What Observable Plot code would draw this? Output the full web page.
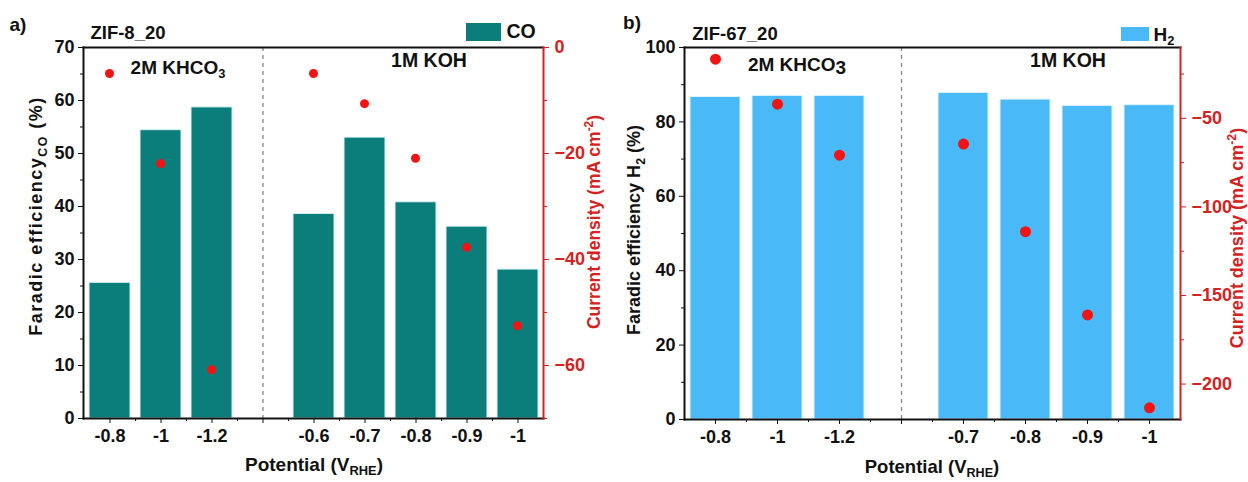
<!DOCTYPE html>
<html><head><meta charset="utf-8">
<script src="https://cdn.jsdelivr.net/npm/d3@7"></script>
<script src="https://cdn.jsdelivr.net/npm/@observablehq/plot@0.6"></script>
<style>
body{margin:0;background:#fff;}
#root{position:relative;width:1248px;height:482px;overflow:hidden;font-family:"Liberation Sans",Arial,sans-serif;font-weight:bold;color:#111;background:#fff;}
.layer{position:absolute;top:0;}
.lbl{position:absolute;white-space:nowrap;transform:translate(-50%,-50%);line-height:1;font-size:18px;}
.rot{transform:translate(-50%,-50%) rotate(-90deg);}
.red{color:#d42222;}
sub,sup{font-size:0.68em;line-height:0;}
.sw{position:absolute;}
</style></head><body><div id="root"></div>
<script>
// ---------- Panel a: ZIF-8_20 ----------
const keysA   = ["K-0.8","K-1","K-1.2","gap","H-0.6","H-0.7","H-0.8","H-0.9","H-1"];
const labelsA = ["-0.8","-1","-1.2","","-0.6","-0.7","-0.8","-0.9","-1"];
const feCO    = [25.6, 54.4, 58.7, null, 38.6, 53.0, 40.8, 36.2, 28.1];
const jA      = [-4.9, -21.9, -60.8, null, -4.9, -10.6, -20.9, -37.7, -52.5];
const feTicksA = [0,10,20,30,40,50,60,70];
const feMinorA = [5,15,25,35,45,55,65];
const jTicksA  = [0,-20,-40,-60];
const jMinorA  = [-10,-30,-50,-70];

// ---------- Panel b: ZIF-67_20 ----------
const keysB   = ["K-0.8","K-1","K-1.2","gap","H-0.7","H-0.8","H-0.9","H-1"];
const labelsB = ["-0.8","-1","-1.2","","-0.7","-0.8","-0.9","-1"];
const feH2    = [86.7, 87.0, 87.0, null, 87.8, 86.0, 84.3, 84.5];
const jB      = [-16.6, -42.0, -70.8, null, -64.5, -114.0, -161.0, -213.4];
const feTicksB = [0,20,40,60,80,100];
const feMinorB = [10,30,50,70,90];
const jTicksB  = [-50,-100,-150,-200];
const jMinorB  = [-25,-75,-125,-175];

const RED_AXIS = "#d42222";
const RED_DOT = "#f01414";

const root = document.getElementById("root");

function panel(o){
  const rows = o.keys.map((k,i)=>({key:k, fe:o.fe[i], j:o.j[i]})).filter(d=>d.fe!=null);
  const lab = new Map(o.keys.map((k,i)=>[k,o.labels[i]]));
  const step = (o.width - o.mL - o.mR)/o.keys.length;
  const baseStyle = {fontFamily:'"Liberation Sans",Arial,sans-serif', fontSize:"18px", fontWeight:"bold", overflow:"visible"};
  const common = {width:o.width, height:482, marginLeft:o.mL, marginRight:o.mR, marginTop:o.mT, marginBottom:o.mB};
  const xs = {domain:o.keys, paddingInner:0.2, paddingOuter:0.1};
  const p1 = Plot.plot({...common, style:{...baseStyle, background:"white"},
    x:xs, y:{domain:o.feDomain},
    marks:[
      Plot.barY(rows,{x:"key", y:"fe", fill:o.color, stroke:o.edge, strokeWidth:1}),
      Plot.ruleX(["gap"],{stroke:"#888", strokeDasharray:"4,4", strokeWidth:1.3}),
      Plot.axisY({ticks:o.feTicks, tickSize:5, tickPadding:4, label:null, color:"#111"}),
      Plot.axisY({ticks:o.feMinor, tickSize:3, tickFormat:()=>"", label:null, color:"#111"}),
      Plot.axisX({tickFormat:k=>lab.get(k), tickSize:5, tickPadding:6, label:null, color:"#111"}),
      Plot.axisX({ticks:o.keys.slice(0,-1), dx:step/2, tickSize:3, tickFormat:()=>"", label:null, color:"#111"}),
      Plot.frame({anchor:"left", stroke:"#111", strokeWidth:2}),
      Plot.frame({anchor:"top", stroke:"#111", strokeWidth:2}),
      Plot.frame({anchor:"bottom", stroke:"#111", strokeWidth:2})
    ]});
  const p2 = Plot.plot({...common, style:{...baseStyle, background:"transparent"},
    x:{...xs, axis:null}, y:{domain:o.jDomain},
    marks:[
      Plot.dot(rows,{x:"key", y:"j", r:o.r, fill:RED_DOT, stroke:"none"}),
      Plot.axisY({anchor:"right", ticks:o.jTicks, tickSize:5, tickPadding:6, label:null, color:RED_AXIS}),
      Plot.axisY({anchor:"right", ticks:o.jMinor, tickSize:3, tickFormat:()=>"", label:null, color:RED_AXIS}),
      Plot.frame({anchor:"right", stroke:RED_AXIS, strokeWidth:2})
    ]});
  for (const p of [p1,p2]) {
    const d = document.createElement("div");
    d.className = "layer";
    d.style.left = o.left + "px";
    d.appendChild(p);
    root.appendChild(d);
  }
}

panel({left:0, width:620, mL:83, mR:77, mT:47, mB:64, keys:keysA, labels:labelsA, fe:feCO, j:jA,
  feDomain:[0,70], feTicks:feTicksA, feMinor:feMinorA, jDomain:[-70,0], jTicks:jTicksA, jMinor:jMinorA,
  color:"#0b7d7a", edge:"#d8f4f2", r:4.5});
panel({left:620, width:628, mL:64, mR:68, mT:47, mB:63, keys:keysB, labels:labelsB, fe:feH2, j:jB,
  feDomain:[0,100], feTicks:feTicksB, feMinor:feMinorB, jDomain:[-220,-10], jTicks:jTicksB, jMinor:jMinorB,
  color:"#4ab9f7", edge:"#e0f4fe", r:5.5});

function label(html, x, y, cls="", extra={}){
  const d = document.createElement("div");
  d.className = "lbl " + cls;
  d.innerHTML = html;
  d.style.left = x + "px"; d.style.top = y + "px";
  Object.assign(d.style, extra);
  root.appendChild(d);
}
function swatch(x, y, w, h, color){
  const d = document.createElement("div");
  d.className = "sw";
  Object.assign(d.style,{left:x+"px", top:y+"px", width:w+"px", height:h+"px", background:color});
  root.appendChild(d);
}

// Panel a texts
label("a)", 18, 24, "", {fontSize:"19px"});
label("ZIF-8_20", 128, 33, "", {fontSize:"18.5px"});
swatch(466, 23, 35, 18, "#0b7d7a");
label("CO", 521, 32, "", {fontSize:"19.5px"});
label("2M KHCO<sub>3</sub>", 178, 67, "", {fontSize:"19px"});
label("1M KOH", 429, 61, "", {fontSize:"19.5px"});
label("Potential (V<sub>RHE</sub>)", 314, 464, "", {fontSize:"19px"});
label("Faradic efficiency<sub>CO</sub> (%)", 36, 216, "rot", {fontSize:"18px", letterSpacing:"1.5px"});
label("Current density (mA cm<sup>-2</sup>)", 595, 222, "rot red", {fontSize:"17.5px"});

// Panel b texts
label("b)", 632, 22, "", {fontSize:"19px"});
label("ZIF-67_20", 735, 34, "", {fontSize:"18.5px"});
swatch(1121, 27, 28, 14, "#4ab9f7");
label("H<sub>2</sub>", 1164, 34, "", {fontSize:"19px"});
label("2M KHCO<span style='position:relative;top:3px'>3</span>", 797, 64, "", {fontSize:"19px"});
label("1M KOH", 1068, 61, "", {fontSize:"19.5px"});
label("Potential (V<sub>RHE</sub>)", 932, 467, "", {fontSize:"18.5px"});
label("Faradic efficiency H<sub>2</sub> (%)", 634, 230, "rot", {fontSize:"18px"});
label("Current density (mA cm<sup>-2</sup>)", 1237, 238, "rot red", {fontSize:"18px"});
</script>
</body></html>
